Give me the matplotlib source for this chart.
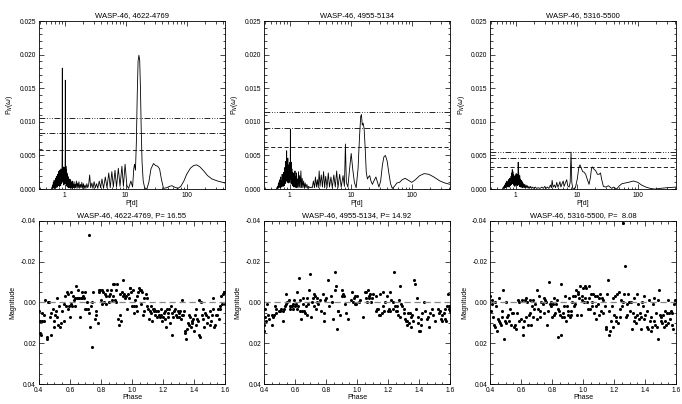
"""Periodograms and phase-folded light curves of WASP-46 for three seasons."""

import matplotlib

matplotlib.use("Agg")
import matplotlib.pyplot as plt
from matplotlib.ticker import FixedLocator, LogLocator, MultipleLocator, NullFormatter

plt.rcParams["font.family"] = ["Liberation Sans", "DejaVu Sans"]
plt.rcParams["axes.unicode_minus"] = False

seasons = ["4622-4769", "4955-5134", "5316-5500"]
best_periods = [16.55, 14.92, 8.08]

# false-alarm levels (dash-dot-dot-dot, dash-dot, dashed)
levels_a = [0.0106, 0.0084, 0.0058]
levels_b = [0.0115, 0.0091, 0.0063]
levels_c = [0.0055, 0.0046, 0.0033]

# periodogram vertices: (period [d], power)
pgram_a = [
    (0.62, 0.0), (0.635, 0.0006), (0.645, 0.0001), (0.655, 0.0010), (0.665, 0.0002),
    (0.675, 0.0013), (0.685, 0.0001), (0.695, 0.0009), (0.705, 0.0003), (0.715, 0.0016),
    (0.725, 0.0002), (0.735, 0.0019), (0.745, 0.0004), (0.755, 0.0014), (0.765, 0.0003),
    (0.775, 0.0022), (0.785, 0.0005), (0.795, 0.0026), (0.805, 0.0006), (0.815, 0.0020),
    (0.825, 0.0004), (0.835, 0.0028), (0.845, 0.0007), (0.855, 0.0024), (0.865, 0.0005),
    (0.875, 0.0030), (0.885, 0.0008), (0.895, 0.0027), (0.905, 0.0010), (0.915, 0.0060),
    (0.92, 0.0180), (0.925, 0.0050), (0.935, 0.0012), (0.945, 0.0033), (0.955, 0.0009),
    (0.965, 0.0029), (0.975, 0.0006), (0.985, 0.0032), (0.995, 0.0010), (1.005, 0.0027),
    (1.015, 0.0008), (1.025, 0.0050), (1.03, 0.0162), (1.035, 0.0045), (1.045, 0.0011),
    (1.055, 0.0034), (1.065, 0.0007), (1.075, 0.0029), (1.085, 0.0005), (1.095, 0.0024),
    (1.105, 0.0004), (1.115, 0.0021), (1.125, 0.0003), (1.135, 0.0019), (1.145, 0.0004),
    (1.16, 0.0017), (1.175, 0.0002), (1.19, 0.0015), (1.205, 0.0003), (1.22, 0.0012),
    (1.235, 0.0002), (1.25, 0.0014), (1.27, 0.0001), (1.29, 0.0010), (1.31, 0.0002),
    (1.33, 0.0012), (1.35, 0.0001), (1.37, 0.0008), (1.40, 0.0002), (1.43, 0.0011),
    (1.46, 0.0001), (1.49, 0.0007), (1.52, 0.0002), (1.56, 0.0012), (1.60, 0.0001),
    (1.64, 0.0009), (1.68, 0.0002), (1.72, 0.0011), (1.77, 0.0001), (1.82, 0.0007),
    (1.87, 0.0002), (1.92, 0.0010), (1.98, 0.0001), (2.04, 0.0008), (2.10, 0.0001),
    (2.17, 0.0006), (2.24, 0.0001), (2.32, 0.0008), (2.40, 0.0002), (2.48, 0.0006),
    (2.58, 0.0021), (2.68, 0.0002), (2.80, 0.0009), (2.92, 0.0001), (3.05, 0.0011),
    (3.2, 0.0002), (3.35, 0.0008), (3.5, 0.0001), (3.7, 0.0012), (3.9, 0.0002),
    (4.1, 0.0015), (4.35, 0.0001), (4.65, 0.0018), (4.95, 0.0002), (5.3, 0.0024),
    (5.6, 0.0002), (5.95, 0.0026), (6.3, 0.0003), (6.7, 0.0028), (7.1, 0.0003),
    (7.6, 0.0031), (8.1, 0.0004), (8.7, 0.0034), (9.2, 0.0004), (9.8, 0.0037),
    (10.5, 0.0005), (11.2, 0.0001), (12.2, 0.0012), (13.0, 0.0003), (13.6, 0.0030),
    (14.0, 0.0037), (14.5, 0.0028), (15.0, 0.0070), (15.5, 0.0140), (16.0, 0.0190),
    (16.5, 0.0199), (17.0, 0.0192), (17.5, 0.0150), (18.0, 0.0090), (18.6, 0.0040),
    (19.4, 0.0012), (20.5, 0.0002), (22.3, 0.0000), (24.0, 0.0010), (26.0, 0.0030),
    (28.6, 0.0038), (31.0, 0.0035), (33.5, 0.0034), (36.0, 0.0030), (38.5, 0.0015),
    (41.7, 0.0001), (47.0, 0.0002), (52.0, 0.0004), (57.0, 0.0005), (63.0, 0.0003),
    (72.0, 0.0001), (80.0, 0.0004), (90.0, 0.0012), (100, 0.0022), (115, 0.0031),
    (130, 0.0035), (146, 0.0036), (165, 0.0033), (190, 0.0027), (220, 0.0020),
    (260, 0.0015), (320, 0.0012), (425, 0.0009),
]

pgram_b = [
    (0.62, 0.0), (0.635, 0.0004), (0.645, 0.0001), (0.655, 0.0008), (0.665, 0.0002),
    (0.675, 0.0011), (0.685, 0.0003), (0.695, 0.0014), (0.705, 0.0002), (0.715, 0.0018),
    (0.725, 0.0004), (0.735, 0.0012), (0.745, 0.0003), (0.755, 0.0022), (0.765, 0.0005),
    (0.775, 0.0016), (0.785, 0.0004), (0.795, 0.0025), (0.805, 0.0006), (0.815, 0.0020),
    (0.825, 0.0005), (0.835, 0.0032), (0.845, 0.0008), (0.855, 0.0041), (0.865, 0.0010),
    (0.875, 0.0030), (0.885, 0.0012), (0.895, 0.0057), (0.905, 0.0015), (0.915, 0.0038),
    (0.925, 0.0010), (0.935, 0.0046), (0.945, 0.0014), (0.955, 0.0030), (0.965, 0.0009),
    (0.975, 0.0036), (0.985, 0.0012), (0.995, 0.0028), (1.005, 0.0010), (1.015, 0.0040),
    (1.025, 0.0015), (1.03, 0.0089), (1.04, 0.0020), (1.05, 0.0034), (1.06, 0.0008),
    (1.07, 0.0040), (1.08, 0.0010), (1.09, 0.0030), (1.10, 0.0007), (1.11, 0.0025),
    (1.12, 0.0005), (1.135, 0.0021), (1.15, 0.0004), (1.165, 0.0024), (1.18, 0.0003),
    (1.195, 0.0019), (1.21, 0.0004), (1.225, 0.0027), (1.24, 0.0003), (1.26, 0.0018),
    (1.28, 0.0002), (1.30, 0.0024), (1.32, 0.0003), (1.34, 0.0015), (1.37, 0.0002),
    (1.40, 0.0026), (1.43, 0.0003), (1.46, 0.0020), (1.49, 0.0002), (1.53, 0.0027),
    (1.57, 0.0002), (1.61, 0.0016), (1.65, 0.0002), (1.70, 0.0012), (1.75, 0.0001),
    (1.80, 0.0009), (1.86, 0.0002), (1.92, 0.0007), (1.98, 0.0001), (2.05, 0.0004),
    (2.15, 0.0002), (2.25, 0.0003), (2.35, 0.0002), (2.45, 0.0012), (2.55, 0.0002),
    (2.65, 0.0018), (2.75, 0.0003), (2.85, 0.0014), (2.95, 0.0002), (3.05, 0.0027),
    (3.15, 0.0004), (3.3, 0.0021), (3.45, 0.0003), (3.6, 0.0026), (3.75, 0.0002),
    (3.9, 0.0019), (4.1, 0.0002), (4.3, 0.0024), (4.5, 0.0003), (4.75, 0.0018),
    (5.0, 0.0002), (5.3, 0.0021), (5.6, 0.0003), (5.9, 0.0027), (6.2, 0.0002),
    (6.6, 0.0022), (7.0, 0.0003), (7.5, 0.0020), (7.9, 0.0004), (8.2, 0.0067),
    (8.5, 0.0010), (9.0, 0.0003), (9.6, 0.0030), (10.2, 0.0053), (10.8, 0.0030),
    (11.5, 0.0010), (12.3, 0.0002), (13.2, 0.0030), (14.0, 0.0080), (14.6, 0.0108),
    (15.0, 0.0111), (15.5, 0.0095), (16.0, 0.0098), (16.6, 0.0090), (17.3, 0.0060),
    (18.0, 0.0025), (18.8, 0.0015), (19.6, 0.0018), (20.5, 0.0020), (21.5, 0.0012),
    (22.7, 0.0007), (24.0, 0.0012), (25.9, 0.0018), (27.5, 0.0010), (29.0, 0.0003),
    (31.0, 0.0012), (33.0, 0.0035), (35.0, 0.0048), (37.0, 0.0050), (39.5, 0.0042),
    (42.0, 0.0025), (45.0, 0.0008), (48.0, 0.0001), (52.0, 0.0004), (57.0, 0.0009),
    (63.0, 0.0010), (70.0, 0.0014), (78.0, 0.0016), (88.0, 0.0013), (100, 0.0010),
    (115, 0.0014), (135, 0.0020), (160, 0.0023), (190, 0.0022), (230, 0.0018),
    (290, 0.0012), (350, 0.0009), (425, 0.0007),
]

pgram_c = [
    (0.62, 0.0), (0.64, 0.0004), (0.65, 0.0001), (0.66, 0.0006), (0.67, 0.0002),
    (0.68, 0.0008), (0.69, 0.0002), (0.70, 0.0010), (0.71, 0.0003), (0.72, 0.0012),
    (0.73, 0.0004), (0.74, 0.0009), (0.75, 0.0003), (0.76, 0.0014), (0.77, 0.0004),
    (0.78, 0.0011), (0.79, 0.0003), (0.80, 0.0016), (0.81, 0.0005), (0.82, 0.0013),
    (0.83, 0.0006), (0.84, 0.0019), (0.85, 0.0007), (0.86, 0.0024), (0.87, 0.0008),
    (0.88, 0.0029), (0.89, 0.0009), (0.90, 0.0026), (0.91, 0.0008), (0.92, 0.0022),
    (0.93, 0.0006), (0.94, 0.0020), (0.95, 0.0005), (0.96, 0.0016), (0.97, 0.0004),
    (0.98, 0.0018), (0.99, 0.0006), (1.00, 0.0021), (1.01, 0.0007), (1.02, 0.0023),
    (1.03, 0.0008), (1.04, 0.0020), (1.05, 0.0006), (1.06, 0.0017), (1.07, 0.0005),
    (1.08, 0.0022), (1.09, 0.0008), (1.10, 0.0040), (1.11, 0.0009), (1.12, 0.0024),
    (1.13, 0.0006), (1.14, 0.0018), (1.15, 0.0004), (1.165, 0.0020), (1.18, 0.0004),
    (1.195, 0.0015), (1.21, 0.0003), (1.225, 0.0013), (1.24, 0.0003), (1.26, 0.0012),
    (1.28, 0.0002), (1.30, 0.0010), (1.32, 0.0002), (1.35, 0.0008), (1.38, 0.0002),
    (1.41, 0.0007), (1.44, 0.0001), (1.48, 0.0006), (1.52, 0.0002), (1.56, 0.0005),
    (1.60, 0.0001), (1.65, 0.0004), (1.70, 0.0001), (1.76, 0.0004), (1.82, 0.0001),
    (1.90, 0.0003), (1.98, 0.0001), (2.1, 0.0003), (2.2, 0.0001), (2.35, 0.0002),
    (2.5, 0.0001), (2.7, 0.0003), (2.85, 0.0001), (3.0, 0.0004), (3.15, 0.0001),
    (3.3, 0.0003), (3.5, 0.0001), (3.7, 0.0006), (3.85, 0.0002), (3.95, 0.0013),
    (4.1, 0.0003), (4.3, 0.0006), (4.5, 0.0002), (4.7, 0.0010), (4.9, 0.0003),
    (5.1, 0.0006), (5.3, 0.0011), (5.5, 0.0003), (5.75, 0.0008), (6.0, 0.0012),
    (6.2, 0.0004), (6.5, 0.0009), (6.85, 0.0014), (7.1, 0.0005), (7.5, 0.0003),
    (7.8, 0.0010), (8.06, 0.0055), (8.3, 0.0010), (8.6, 0.0001), (9.0, 0.0000),
    (9.5, 0.0002), (10.2, 0.0015), (10.8, 0.0032), (11.3, 0.0036), (11.9, 0.0031),
    (12.5, 0.0026), (13.2, 0.0025), (14.0, 0.0022), (14.8, 0.0015), (15.9, 0.0007),
    (16.8, 0.0018), (17.4, 0.0030), (18.0, 0.0033), (19.0, 0.0030), (20.5, 0.0027),
    (21.8, 0.0022), (23.2, 0.0022), (24.5, 0.0024), (25.5, 0.0015), (27.3, 0.0004),
    (30.0, 0.0003), (33.0, 0.0005), (35.0, 0.0003), (37.4, 0.0001), (40.0, 0.0003),
    (45.0, 0.0000), (50.0, 0.0005), (55.0, 0.0008), (62.0, 0.0009), (70.0, 0.0010),
    (85.0, 0.0012), (100, 0.0010), (115, 0.0006), (135, 0.0003), (160, 0.0001),
    (190, 0.0000), (230, 0.0001), (300, 0.0002), (425, 0.0003),
]

# phase-folded photometry: (phase, magnitude)
lc_a = [
    (0.402, 0.004), (0.405, 0.009), (0.408, 0.015), (0.412, 0.016), (0.418, 0.005),
    (0.42, 0.009), (0.43, 0.009), (0.435, 0.006), (0.44, -0.001), (0.45, 0.017),
    (0.455, 0.018), (0.46, 0.000), (0.465, 0.000), (0.47, 0.007), (0.475, 0.016),
    (0.48, 0.005), (0.49, 0.003), (0.495, 0.009), (0.50, 0.012), (0.505, 0.006),
    (0.51, 0.004), (0.515, -0.002), (0.52, 0.007), (0.525, 0.011), (0.53, 0.002),
    (0.535, 0.012), (0.54, 0.010), (0.55, 0.004), (0.56, 0.009), (0.565, 0.001),
    (0.57, -0.003), (0.575, 0.002), (0.58, -0.005), (0.585, -0.004), (0.59, 0.003),
    (0.595, 0.002), (0.60, 0.007), (0.605, -0.005), (0.61, 0.001), (0.615, 0.002),
    (0.62, -0.003), (0.625, -0.001), (0.63, 0.002), (0.635, -0.002), (0.64, -0.008),
    (0.645, -0.002), (0.65, -0.002), (0.655, -0.006), (0.66, -0.002), (0.665, 0.007),
    (0.67, -0.002), (0.675, -0.005), (0.68, -0.002), (0.685, -0.003), (0.69, -0.002),
    (0.695, 0.003), (0.70, -0.005), (0.705, 0.003), (0.71, 0.000), (0.715, 0.003),
    (0.72, -0.033), (0.725, 0.005), (0.73, 0.012), (0.735, 0.002), (0.74, 0.022),
    (0.745, 0.000), (0.75, -0.005), (0.76, 0.008), (0.765, 0.004), (0.77, 0.006),
    (0.78, 0.010), (0.785, -0.006), (0.79, -0.005), (0.795, -0.006), (0.80, -0.001),
    (0.805, -0.006), (0.81, 0.001), (0.815, -0.005), (0.82, 0.000), (0.825, -0.004),
    (0.83, 0.001), (0.835, -0.003), (0.84, -0.006), (0.85, 0.000), (0.855, -0.003),
    (0.86, -0.004), (0.865, -0.006), (0.87, -0.001), (0.875, -0.009), (0.88, -0.003),
    (0.885, -0.009), (0.89, -0.001), (0.895, -0.006), (0.90, 0.000), (0.905, -0.009),
    (0.91, 0.008), (0.915, 0.011), (0.92, 0.006), (0.925, -0.004), (0.93, 0.009),
    (0.935, -0.005), (0.94, -0.003), (0.945, -0.011), (0.95, -0.004), (0.955, -0.002),
    (0.96, -0.003), (0.97, 0.003), (0.975, -0.004), (0.98, -0.002), (0.985, -0.007),
    (0.99, -0.007), (0.995, -0.005), (1.00, 0.002), (1.005, -0.006), (1.01, 0.002),
    (1.015, 0.005), (1.02, -0.001), (1.025, 0.002), (1.03, -0.003), (1.035, 0.004),
    (1.04, -0.005), (1.045, -0.007), (1.05, -0.006), (1.055, -0.006), (1.06, 0.001),
    (1.065, -0.005), (1.07, 0.006), (1.075, -0.002), (1.08, 0.004), (1.09, -0.004),
    (1.095, 0.002), (1.10, -0.002), (1.105, 0.003), (1.11, 0.008), (1.115, 0.004),
    (1.12, 0.005), (1.125, 0.002), (1.13, 0.009), (1.135, 0.003), (1.14, 0.004),
    (1.145, 0.003), (1.15, 0.006), (1.155, 0.004), (1.16, 0.007), (1.17, 0.004),
    (1.175, 0.006), (1.18, 0.007), (1.185, 0.003), (1.19, 0.006), (1.195, 0.009),
    (1.20, 0.007), (1.205, 0.005), (1.21, 0.004), (1.215, 0.008), (1.22, 0.012),
    (1.225, 0.003), (1.23, 0.005), (1.235, 0.007), (1.24, 0.003), (1.245, 0.010),
    (1.25, 0.002), (1.255, 0.005), (1.26, 0.016), (1.265, 0.007), (1.27, 0.004),
    (1.28, 0.003), (1.285, 0.006), (1.29, 0.007), (1.295, 0.004), (1.30, 0.005),
    (1.305, 0.007), (1.31, 0.004), (1.315, 0.008), (1.32, 0.006), (1.325, -0.001),
    (1.33, 0.006), (1.335, 0.004), (1.34, 0.014), (1.345, 0.015), (1.35, 0.018),
    (1.355, 0.013), (1.36, 0.010), (1.365, 0.006), (1.37, 0.011), (1.375, 0.007),
    (1.38, 0.012), (1.385, 0.009), (1.39, 0.010), (1.395, 0.008), (1.40, 0.014),
    (1.405, 0.006), (1.41, 0.011), (1.415, 0.003), (1.42, 0.008), (1.425, 0.009),
    (1.43, 0.016), (1.435, -0.001), (1.44, 0.017), (1.445, 0.000), (1.45, 0.006),
    (1.455, 0.008), (1.46, 0.003), (1.465, 0.012), (1.47, 0.005), (1.48, 0.006),
    (1.485, 0.010), (1.49, 0.007), (1.50, 0.011), (1.505, 0.004), (1.51, 0.009),
    (1.515, 0.006), (1.52, -0.002), (1.525, 0.003), (1.53, 0.012), (1.535, 0.011),
    (1.54, 0.006), (1.55, 0.006), (1.555, 0.003), (1.56, 0.008), (1.565, 0.002),
    (1.57, 0.003), (1.575, -0.003), (1.58, 0.001), (1.585, -0.004), (1.59, -0.005),
    (1.595, -0.005), (1.60, 0.001),
]

lc_b = [
    (0.40, 0.011), (0.402, 0.014), (0.405, 0.007), (0.41, 0.003), (0.415, 0.009),
    (0.42, 0.001), (0.425, 0.006), (0.43, 0.008), (0.45, 0.006), (0.455, 0.011),
    (0.46, 0.007), (0.465, 0.006), (0.47, 0.002), (0.475, 0.005), (0.48, 0.003),
    (0.50, 0.004), (0.505, 0.004), (0.51, 0.003), (0.52, 0.009), (0.525, 0.004),
    (0.53, 0.003), (0.535, 0.002), (0.54, -0.004), (0.545, 0.001), (0.55, 0.000),
    (0.56, -0.001), (0.565, 0.003), (0.57, 0.002), (0.575, 0.002), (0.58, 0.002),
    (0.585, 0.003), (0.59, 0.001), (0.595, -0.001), (0.60, 0.002), (0.605, 0.001),
    (0.61, -0.005), (0.615, 0.003), (0.62, 0.002), (0.625, -0.012), (0.63, -0.001),
    (0.635, 0.004), (0.64, 0.008), (0.645, 0.004), (0.65, 0.001), (0.655, -0.002),
    (0.66, 0.004), (0.665, 0.005), (0.67, 0.002), (0.675, -0.002), (0.68, 0.006),
    (0.685, 0.001), (0.69, -0.006), (0.70, -0.014), (0.705, 0.007), (0.71, 0.000),
    (0.715, -0.002), (0.72, -0.004), (0.725, 0.002), (0.73, -0.003), (0.735, 0.003),
    (0.74, 0.000), (0.745, -0.002), (0.75, 0.001), (0.76, -0.001), (0.77, 0.004),
    (0.78, -0.004), (0.785, 0.009), (0.79, 0.005), (0.795, -0.001), (0.80, -0.002),
    (0.81, -0.011), (0.82, 0.002), (0.83, -0.003), (0.84, 0.000), (0.845, 0.008),
    (0.855, -0.015), (0.86, -0.006), (0.865, -0.008), (0.87, 0.013), (0.875, 0.004),
    (0.88, 0.004), (0.89, 0.006), (0.90, -0.003), (0.905, -0.006), (0.91, -0.004),
    (0.915, -0.003), (0.92, 0.001), (0.93, 0.005), (0.94, 0.008), (0.96, -0.001),
    (0.97, -0.005), (0.975, 0.000), (0.98, -0.002), (0.985, -0.003), (0.99, 0.001),
    (0.995, 0.001), (1.00, -0.003), (1.01, 0.000), (1.02, -0.001), (1.04, 0.007),
    (1.05, -0.005), (1.055, -0.002), (1.06, -0.005), (1.065, 0.000), (1.07, -0.006),
    (1.075, -0.003), (1.08, -0.002), (1.085, -0.004), (1.09, 0.000), (1.095, -0.002),
    (1.10, -0.004), (1.12, -0.003), (1.125, 0.004), (1.13, 0.003), (1.135, 0.003),
    (1.14, 0.006), (1.145, -0.004), (1.15, 0.006), (1.16, 0.005), (1.165, -0.005),
    (1.17, 0.002), (1.175, 0.004), (1.18, 0.000), (1.19, -0.003), (1.20, 0.004),
    (1.205, 0.003), (1.21, -0.005), (1.215, 0.004), (1.22, -0.001), (1.23, 0.000),
    (1.235, 0.003), (1.24, -0.015), (1.245, 0.002), (1.25, 0.004), (1.255, 0.004),
    (1.26, 0.002), (1.265, 0.006), (1.27, -0.001), (1.275, 0.007), (1.28, -0.008),
    (1.285, 0.001), (1.29, 0.002), (1.30, 0.003), (1.305, 0.005), (1.31, 0.008),
    (1.315, 0.009), (1.32, 0.009), (1.325, 0.011), (1.33, 0.005), (1.335, 0.010),
    (1.34, 0.005), (1.345, 0.007), (1.35, 0.012), (1.355, 0.006), (1.36, 0.009),
    (1.37, -0.011), (1.375, -0.009), (1.38, 0.003), (1.385, -0.002), (1.39, 0.007),
    (1.395, 0.010), (1.40, 0.014), (1.405, 0.014), (1.41, 0.011), (1.415, 0.008),
    (1.42, 0.005), (1.43, 0.000), (1.44, 0.004), (1.45, 0.008), (1.46, 0.007),
    (1.465, 0.012), (1.47, 0.005), (1.48, 0.003), (1.49, 0.006), (1.50, 0.009),
    (1.52, 0.003), (1.53, 0.005), (1.535, 0.004), (1.54, 0.008), (1.545, 0.009),
    (1.55, 0.006), (1.56, 0.005), (1.565, 0.008), (1.57, 0.003), (1.575, 0.009),
    (1.58, 0.002), (1.585, -0.004), (1.59, 0.003), (1.595, 0.002), (1.60, 0.004),
]

lc_c = [
    (0.40, -0.003), (0.405, 0.004), (0.41, 0.001), (0.415, -0.001), (0.42, 0.007),
    (0.425, 0.011), (0.43, 0.000), (0.435, 0.012), (0.44, 0.002), (0.445, 0.014),
    (0.45, 0.008), (0.455, 0.009), (0.46, -0.002), (0.465, 0.010), (0.47, 0.011),
    (0.475, 0.004), (0.48, 0.007), (0.485, -0.006), (0.49, 0.018), (0.495, 0.009),
    (0.50, 0.000), (0.505, 0.010), (0.51, 0.007), (0.515, 0.006), (0.52, 0.009),
    (0.53, 0.003), (0.535, 0.011), (0.54, 0.005), (0.55, 0.005), (0.555, 0.012),
    (0.56, 0.011), (0.57, 0.013), (0.575, 0.005), (0.58, -0.001), (0.585, 0.009),
    (0.59, 0.000), (0.60, 0.008), (0.605, -0.001), (0.61, 0.012), (0.615, 0.016),
    (0.62, 0.009), (0.625, -0.001), (0.63, -0.002), (0.635, 0.007), (0.64, 0.000),
    (0.645, 0.011), (0.65, 0.006), (0.655, -0.001), (0.66, 0.005), (0.665, 0.011),
    (0.67, 0.002), (0.675, -0.001), (0.68, 0.007), (0.685, 0.003), (0.69, 0.001),
    (0.70, 0.008), (0.705, -0.006), (0.71, 0.003), (0.715, -0.003), (0.72, 0.004),
    (0.725, 0.007), (0.73, 0.000), (0.74, 0.001), (0.745, -0.002), (0.75, 0.005),
    (0.755, -0.001), (0.76, 0.000), (0.77, 0.011), (0.775, 0.004), (0.78, -0.010),
    (0.785, 0.001), (0.79, 0.002), (0.795, 0.000), (0.80, 0.007), (0.805, 0.001),
    (0.81, 0.006), (0.815, -0.002), (0.82, 0.005), (0.825, 0.001), (0.83, -0.001),
    (0.835, 0.003), (0.84, 0.017), (0.845, 0.004), (0.85, 0.006), (0.855, 0.016),
    (0.86, -0.009), (0.865, 0.007), (0.87, 0.005), (0.875, 0.002), (0.88, 0.007),
    (0.885, -0.003), (0.89, 0.009), (0.895, 0.002), (0.90, 0.006), (0.905, 0.004),
    (0.91, -0.002), (0.915, 0.007), (0.92, 0.006), (0.925, 0.004), (0.93, 0.000),
    (0.935, -0.003), (0.94, 0.002), (0.945, 0.001), (0.95, -0.003), (0.955, -0.006),
    (0.96, 0.006), (0.965, -0.005), (0.97, -0.004), (0.975, -0.002), (0.98, -0.008),
    (0.985, 0.006), (0.99, -0.001), (0.995, -0.003), (1.00, -0.007), (1.005, 0.000),
    (1.01, -0.008), (1.015, -0.002), (1.02, -0.007), (1.025, 0.000), (1.03, 0.003),
    (1.035, -0.002), (1.04, -0.008), (1.045, 0.003), (1.05, -0.004), (1.055, 0.002),
    (1.06, 0.000), (1.065, -0.004), (1.07, 0.005), (1.075, -0.003), (1.08, 0.008),
    (1.085, 0.002), (1.09, -0.003), (1.095, 0.001), (1.10, -0.002), (1.105, 0.006),
    (1.11, -0.004), (1.115, 0.004), (1.12, -0.002), (1.125, 0.005), (1.13, -0.001),
    (1.14, 0.002), (1.145, 0.013), (1.15, 0.012), (1.155, -0.004), (1.16, -0.011),
    (1.165, 0.016), (1.17, 0.004), (1.175, 0.014), (1.18, 0.009), (1.185, 0.002),
    (1.19, 0.012), (1.195, -0.002), (1.20, 0.006), (1.205, -0.003), (1.21, 0.007),
    (1.215, 0.009), (1.22, -0.004), (1.225, 0.010), (1.23, -0.005), (1.235, 0.003),
    (1.24, 0.007), (1.245, -0.001), (1.25, 0.002), (1.255, 0.000), (1.26, -0.039),
    (1.265, -0.004), (1.27, -0.018), (1.275, 0.007), (1.28, 0.001), (1.285, 0.006),
    (1.29, -0.004), (1.295, 0.000), (1.30, 0.004), (1.31, 0.000), (1.315, 0.013),
    (1.32, 0.005), (1.325, 0.009), (1.33, -0.002), (1.335, 0.007), (1.34, 0.010),
    (1.345, -0.004), (1.35, 0.006), (1.355, 0.001), (1.36, 0.008), (1.365, 0.005),
    (1.37, 0.007), (1.375, 0.013), (1.38, 0.000), (1.385, 0.002), (1.39, 0.008),
    (1.395, -0.003), (1.40, 0.006), (1.41, 0.012), (1.415, 0.004), (1.42, 0.013),
    (1.425, -0.001), (1.43, 0.009), (1.435, 0.014), (1.44, 0.007), (1.445, 0.012),
    (1.45, 0.001), (1.455, -0.002), (1.46, 0.009), (1.465, 0.011), (1.47, 0.005),
    (1.475, 0.012), (1.48, -0.001), (1.485, 0.018), (1.49, -0.006), (1.495, 0.006),
    (1.50, 0.009), (1.505, 0.007), (1.51, 0.010), (1.515, 0.006), (1.52, 0.012),
    (1.525, 0.004), (1.53, 0.009), (1.535, 0.011), (1.54, 0.005), (1.545, 0.010),
    (1.55, -0.001), (1.555, 0.005), (1.56, 0.008), (1.565, 0.004), (1.57, 0.011),
    (1.575, 0.005), (1.58, 0.013), (1.585, 0.001), (1.59, -0.001), (1.595, 0.000),
    (1.60, -0.001),
]

LEVEL_STYLES = [(0, (7, 2, 1, 2, 1, 2, 1, 2)), (0, (7, 2, 1, 2)), (0, (5, 3))]


def _frame(ax):
    ax.tick_params(which="both", direction="in", top=True, right=True,
                   labelsize=4.8, width=0.5, pad=2)
    ax.tick_params(which="major", length=3.5)
    ax.tick_params(which="minor", length=1.8)
    for spine in ax.spines.values():
        spine.set_linewidth(0.6)


def main():
    fig = plt.figure(figsize=(6.82, 4.04), dpi=100)
    lefts = [0.057, 0.387, 0.7185]
    width = 0.273

    pgrams = [pgram_a, pgram_b, pgram_c]
    levels = [levels_a, levels_b, levels_c]
    curves = [lc_a, lc_b, lc_c]

    for i in range(3):
        # periodogram
        ax = fig.add_axes([lefts[i], 0.532, width, 0.416])
        period, power = zip(*pgrams[i])
        ax.plot(period, power, color="black", lw=0.6)
        for lev, ls in zip(levels[i], LEVEL_STYLES):
            ax.axhline(lev, color="black", lw=0.6, linestyle=ls)
        ax.set_xscale("log")
        ax.set_xlim(0.38, 425)
        ax.set_ylim(0, 0.025)
        ax.xaxis.set_major_locator(FixedLocator([1, 10, 100]))
        ax.xaxis.set_major_formatter(plt.FuncFormatter(lambda v, p: f"{v:g}"))
        ax.xaxis.set_minor_locator(LogLocator(base=10, subs=range(2, 10)))
        ax.xaxis.set_minor_formatter(NullFormatter())
        ax.yaxis.set_major_locator(MultipleLocator(0.005))
        ax.yaxis.set_minor_locator(MultipleLocator(0.001))
        ax.yaxis.set_major_formatter(plt.FuncFormatter(lambda v, p: f"{v:.3f}"))
        ax.set_title(f"WASP-46, {seasons[i]}", fontsize=5.5, pad=2.5)
        ax.set_xlabel("P[d]", fontsize=5, labelpad=1)
        ax.set_ylabel(r"P$_N$($\omega$)", fontsize=5, labelpad=3)
        _frame(ax)

        # phase-folded light curve
        ax = fig.add_axes([lefts[i], 0.0495, width, 0.404])
        phase, mag = zip(*curves[i])
        ax.scatter(phase, mag, s=5, color="black", linewidths=0)
        ax.axhline(0.0, color="#888888", lw=0.9, linestyle=(0, (5, 3)))
        ax.set_xlim(0.4, 1.6)
        ax.set_ylim(0.04, -0.04)
        ax.xaxis.set_major_locator(MultipleLocator(0.2))
        ax.xaxis.set_minor_locator(MultipleLocator(0.05))
        ax.xaxis.set_major_formatter(plt.FuncFormatter(lambda v, p: f"{v:.1f}"))
        ax.yaxis.set_major_locator(MultipleLocator(0.02))
        ax.yaxis.set_minor_locator(MultipleLocator(0.005))
        ax.yaxis.set_major_formatter(plt.FuncFormatter(lambda v, p: f"{v:.2f}"))
        title = f"WASP-46, {seasons[i]}, P={best_periods[i]:6.2f}"
        ax.set_title(title, fontsize=5.5, pad=2.5)
        ax.set_xlabel("Phase", fontsize=5, labelpad=0.5)
        ax.set_ylabel("Magnitude", fontsize=5, labelpad=3)
        _frame(ax)

    fig.savefig("out.png", dpi=100)
    plt.close(fig)


if __name__ == "__main__":
    main()
